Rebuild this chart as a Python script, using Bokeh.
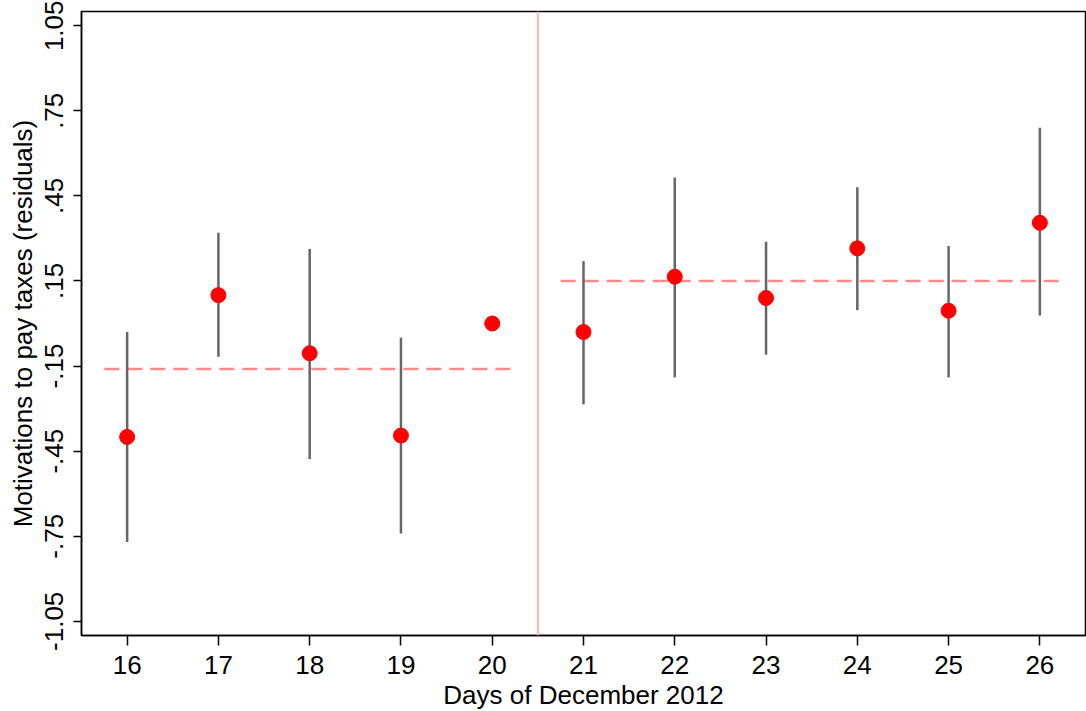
from bokeh.plotting import figure
from bokeh.models import FixedTicker, Span
from bokeh.embed import file_html
from bokeh.resources import INLINE
import math

# ---- data ----
days = [16, 17, 18, 19, 20, 21, 22, 23, 24, 25, 26]
means = [-0.400, 0.100, -0.105, -0.395, 0.000, -0.030, 0.165, 0.090, 0.265, 0.045, 0.355]
ci_low = [-0.770, -0.117, -0.478, -0.740, math.nan, -0.285, -0.190, -0.110, 0.047, -0.190, 0.028]
ci_high = [-0.030, 0.320, 0.263, -0.050, math.nan, 0.220, 0.515, 0.288, 0.480, 0.273, 0.690]
pre_days = [16, 17, 18, 19, 20]
post_days = [21, 22, 23, 24, 25, 26]
pre_mean = -0.160
post_mean = 0.150
cutoff = 20.5
y_ticks = [-1.05, -0.75, -0.45, -0.15, 0.15, 0.45, 0.75, 1.05]
y_tick_labels = ["-1.05", "-.75", "-.45", "-.15", ".15", ".45", ".75", "1.05"]

FONT = "Liberation Sans"

p = figure(
    frame_width=1004, frame_height=624,
    x_range=(15.5, 26.5), y_range=(-1.1, 1.1),
    output_backend="svg", toolbar_location=None,
    min_border_left=81, min_border_top=11, min_border_right=1, min_border_bottom=74,
)
p.background_fill_color = "white"
p.border_fill_color = "white"
p.outline_line_color = "black"
p.outline_line_width = 1.5
p.xgrid.visible = False
p.ygrid.visible = False

# cutoff line
p.add_layout(Span(location=cutoff, dimension="height", line_color="#FFB4B4", line_width=2))

# period means (dashed)
pad = 0.25
p.line([min(pre_days) - pad, max(pre_days) + pad], [pre_mean, pre_mean],
       line_color="#FF8A8A", line_width=2.5, line_dash="15 8")
p.line([min(post_days) - pad, max(post_days) + pad], [post_mean, post_mean],
       line_color="#FF8A8A", line_width=2.5, line_dash="15 8")

# confidence intervals
p.segment(x0=days, y0=ci_low, x1=days, y1=ci_high, line_color="#666666", line_width=2.5)

# points
p.scatter(days, means, size=15, fill_color="#FF0000", line_color="#FF0000")

# axes
for ax in (p.xaxis[0], p.yaxis[0]):
    ax.axis_line_color = "black"
    ax.axis_line_width = 1.5
    ax.major_tick_line_color = "black"
    ax.major_tick_line_width = 1.5
    ax.minor_tick_line_color = None
    ax.major_tick_in = 0
    ax.major_label_text_font = FONT
    ax.major_label_text_font_size = "26px"
    ax.major_label_text_color = "black"
    ax.axis_label_text_font = FONT
    ax.axis_label_text_font_size = "26px"
    ax.axis_label_text_font_style = "normal"
    ax.axis_label_text_color = "black"

p.xaxis.ticker = FixedTicker(ticks=days)
p.xaxis.major_tick_out = 10
p.xaxis.major_label_standoff = 10
p.xaxis.axis_label = "Days of December 2012"
p.xaxis.axis_label_standoff = 3

p.yaxis.ticker = FixedTicker(ticks=y_ticks)
p.yaxis.major_label_overrides = {t: l for t, l in zip(y_ticks, y_tick_labels)}
p.yaxis.major_label_orientation = "vertical"
p.yaxis.major_tick_out = 8
p.yaxis.major_label_standoff = 10
p.yaxis.axis_label = "Motivations to pay taxes (residuals)"
p.yaxis.axis_label_standoff = 5

open("out.html", "w").write(file_html(p, INLINE))
